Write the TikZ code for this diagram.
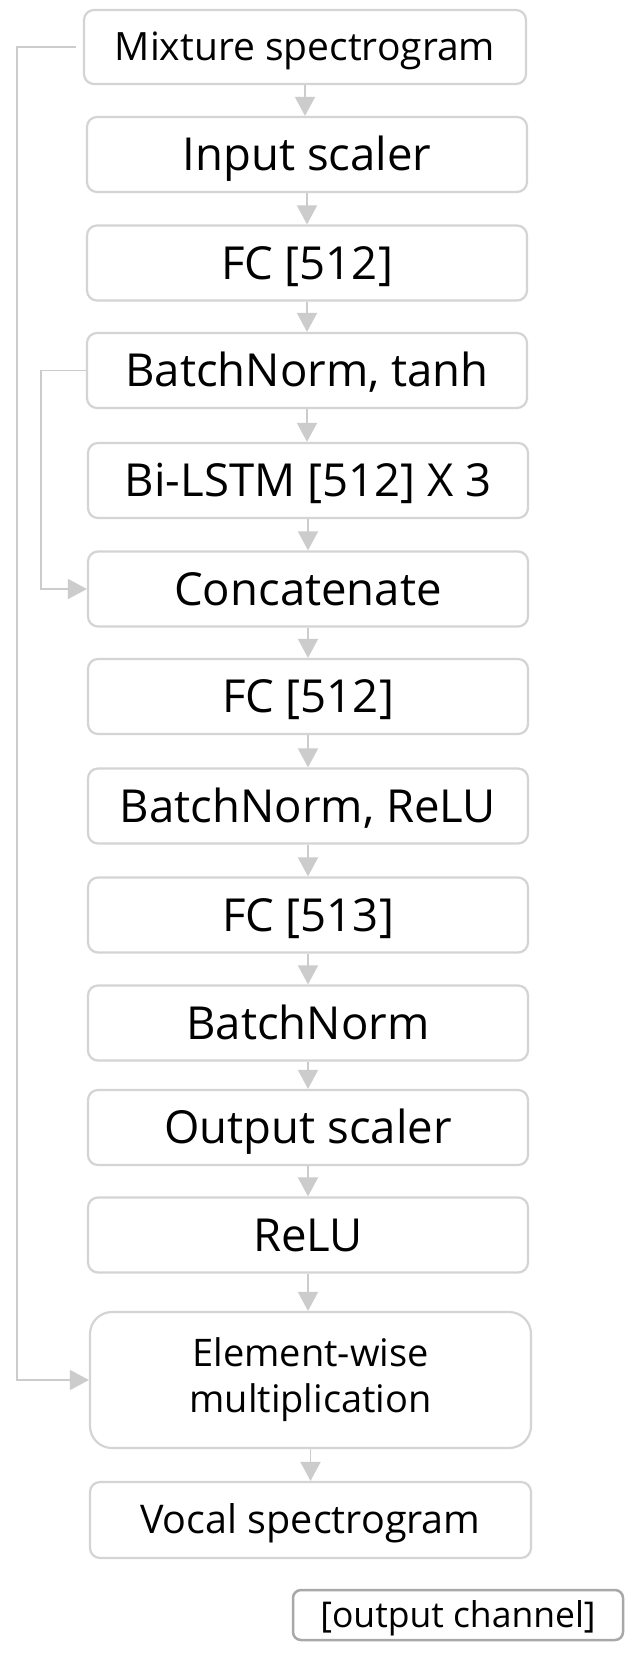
\documentclass[tikz,border=0pt]{standalone}
\usepackage{fontspec}
\setmainfont{Open Sans}
\usetikzlibrary{arrows.meta}
\definecolor{boxgray}{RGB}{212,212,212}
\definecolor{linegray}{RGB}{204,204,204}
\definecolor{keygray}{RGB}{168,168,168}
\begin{document}
\begin{tikzpicture}[x=1pt,y=-1pt,
  blk/.style={draw=boxgray, line width=2.2pt, rounded corners=10pt, minimum width=440pt, minimum height=75pt, inner sep=0pt, text height=32.5pt, text depth=0pt, font=\fontsize{45.5}{52}\selectfont},
  conn/.style={draw=linegray, line width=1.6pt, -{Triangle[length=19pt,width=20pt]}},
]
\useasboundingbox[fill=white] (0,0) rectangle (644,1678);
\node[blk, minimum width=442pt, minimum height=74pt, text height=27.8pt, font=\fontsize{39}{45}\selectfont] (mix) at (305,47) {Mixture spectrogram};
\node[blk] (inp) at (307,154.5) {Input scaler};
\node[blk] (fc1) at (307,263) {FC [512]};
\node[blk] (bnt) at (307,370.5) {BatchNorm, tanh};
\node[blk] (lstm) at (308,480.5) {Bi-LSTM [512] X 3};
\node[blk] (cat) at (308,589) {Concatenate};
\node[blk] (fc2) at (308,696.5) {FC [512]};
\node[blk] (bnr) at (308,806) {BatchNorm, ReLU};
\node[blk] (fc3) at (308,915) {FC [513]};
\node[blk] (bn) at (308,1023) {BatchNorm};
\node[blk] (outs) at (308,1127.5) {Output scaler};
\node[blk] (relu) at (308,1235) {ReLU};
\node[blk, minimum width=441pt, minimum height=136pt, rounded corners=22pt, text height=, text depth=, align=center, font=\fontsize{38}{46}\selectfont] (mul) at (310.5,1380) {Element-wise\\multiplication};
\node[blk, minimum width=441pt, minimum height=76pt, text height=27.8pt, font=\fontsize{39.5}{45}\selectfont] (voc) at (310.5,1520) {Vocal spectrogram};
\node[blk, draw=keygray, line width=2.5pt, minimum width=330pt, minimum height=50pt, rounded corners=8pt, text height=25.3pt, font=\fontsize{35.5}{40}\selectfont] (key) at (458,1615) {[output channel]};
\foreach \a/\b in {mix/inp, inp/fc1, fc1/bnt, bnt/lstm, lstm/cat, cat/fc2, fc2/bnr, bnr/fc3, fc3/bn, bn/outs, outs/relu, relu/mul, mul/voc}
  \draw[conn] (\a.south) -- (\a.south |- \b.north);
\coordinate (m0) at ([xshift=-7pt]mix.west);
\draw[conn] (m0) -- (17,47) -- (17,1380) -- (mul.west);
\draw[conn] (bnt.west) -- (41,370.5) -- (41,589) -- (cat.west);
\end{tikzpicture}
\end{document}
